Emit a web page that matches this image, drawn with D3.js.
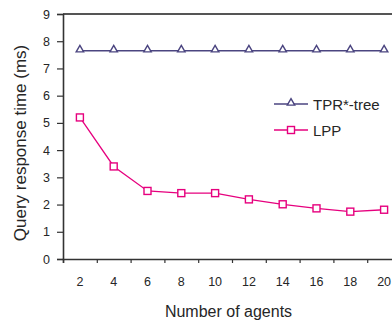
<!DOCTYPE html>
<html><head><meta charset="utf-8">
<script src="https://cdn.jsdelivr.net/npm/d3@7"></script>
<style>body{margin:0;background:#fff;}svg{display:block;font-family:"Liberation Sans",Arial,sans-serif;}</style>
</head><body><svg id="c" width="392" height="324"></svg>
<script>
const agents = [2,4,6,8,10,12,14,16,18,20];
const tprTree = [7.65,7.65,7.65,7.65,7.65,7.65,7.65,7.65,7.65,7.65];
const lpp = [5.2,3.4,2.5,2.42,2.42,2.19,2.01,1.86,1.74,1.81];
const yTicks = [0,1,2,3,4,5,6,7,8,9];
const xTickMarks = [1,3,5,7,9,11,13,15,17,19,21];
const seriesNames = ["TPR*-tree","LPP"];

const svg = d3.select("#c");
const x = d3.scaleLinear().domain([1,21]).range([63,401]);
const y = d3.scaleLinear().domain([0,9]).range([259,14]);
const axisCol = "#333";
const tprCol = "#4b4580", lppCol = "#e6007e";
const txtCol = "#262626";

// top border
svg.append("line").attr("x1",63).attr("x2",392).attr("y1",y(9)).attr("y2",y(9))
  .attr("stroke","#555").attr("stroke-width",2);

// y axis
const ya = svg.append("g").attr("transform","translate(63,0)")
  .call(d3.axisLeft(y).tickValues(yTicks).tickSize(6).tickPadding(7).tickFormat(d3.format("d")));
ya.select(".domain").attr("stroke",axisCol).attr("stroke-width",1.6);
ya.selectAll(".tick line").attr("stroke",axisCol).attr("stroke-width",1.2);
ya.selectAll("text").attr("font-size",12.5).attr("fill",txtCol).attr("font-family","Liberation Sans, Arial, sans-serif");

// x axis
const xa = svg.append("g").attr("transform","translate(0,259)")
  .call(d3.axisBottom(x).tickValues(xTickMarks).tickSize(4).tickFormat(""));
xa.select(".domain").attr("stroke",axisCol).attr("stroke-width",1.6);
xa.selectAll(".tick line").attr("stroke",axisCol).attr("stroke-width",1.2);
svg.append("g").selectAll("text").data(agents).join("text")
  .attr("x",d=>x(d)).attr("y",286).attr("text-anchor","middle")
  .attr("font-size",12.5).attr("fill",txtCol).text(d=>d);

// titles
svg.append("text").attr("x",228.5).attr("y",316.5).attr("text-anchor","middle")
  .attr("font-size",16).attr("fill",txtCol).text("Number of agents");
svg.append("text").attr("transform","translate(26,143) rotate(-90)").attr("text-anchor","middle")
  .attr("font-size",17).attr("fill",txtCol).text("Query response time (ms)");

const line = d3.line().x((d,i)=>x(agents[i])).y(d=>y(d));
const tri = d3.symbol().type(d3.symbolTriangle).size(24);

function drawTri(g, cx, cy){
  g.append("path").attr("d",tri()).attr("transform",`translate(${cx},${cy-1})`)
    .attr("fill","#fff").attr("stroke",tprCol).attr("stroke-width",1.4);
}
function drawSq(g, cx, cy){
  g.append("rect").attr("x",cx-3.5).attr("y",cy-3.5).attr("width",7).attr("height",7)
    .attr("fill","#fff").attr("stroke",lppCol).attr("stroke-width",1.4);
}

svg.append("path").datum(tprTree).attr("d",line).attr("fill","none").attr("stroke",tprCol).attr("stroke-width",1.3);
const gT = svg.append("g");
tprTree.forEach((v,i)=>drawTri(gT,x(agents[i]),y(v)));

svg.append("path").datum(lpp).attr("d",line).attr("fill","none").attr("stroke",lppCol).attr("stroke-width",1.3);
const gL = svg.append("g");
lpp.forEach((v,i)=>drawSq(gL,x(agents[i]),y(v)));

// legend
const leg = svg.append("g");
const lcols = [tprCol,lppCol];
seriesNames.forEach((n,i)=>{
  const ly = 104 + i*26;
  leg.append("line").attr("x1",274).attr("x2",308).attr("y1",ly).attr("y2",ly).attr("stroke",lcols[i]).attr("stroke-width",1.3);
  if(i===0) drawTri(leg,291,ly); else drawSq(leg,291,ly);
  leg.append("text").attr("x",313).attr("y",ly+5.5).attr("font-size",15).attr("fill",txtCol).text(n);
});
</script></body></html>
